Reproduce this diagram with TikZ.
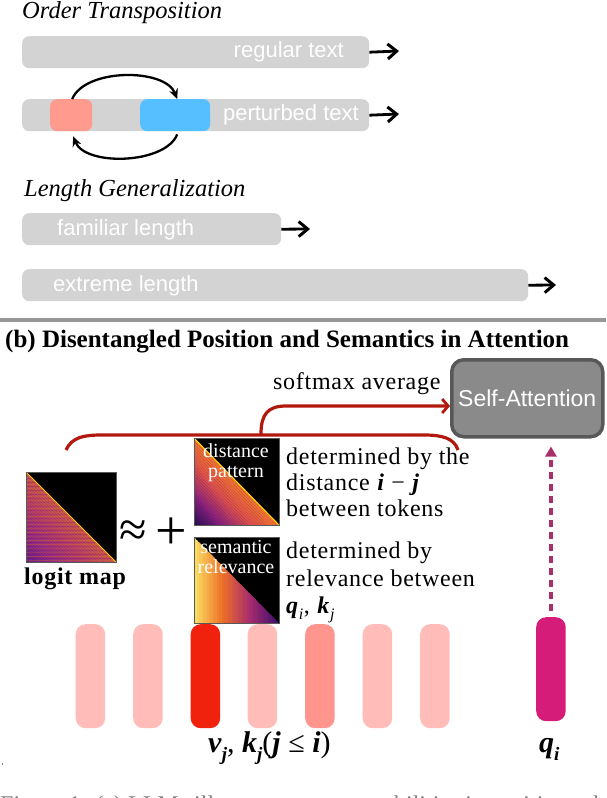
\documentclass[tikz,border=0pt]{standalone}
\usepackage{fontspec}
\setmainfont{Liberation Serif}
\setsansfont{Liberation Sans}
\usetikzlibrary{arrows.meta}
\definecolor{bargray}{RGB}{211,211,211}
\definecolor{pinkbox}{RGB}{255,154,143}
\definecolor{bluebox}{RGB}{85,191,255}
\definecolor{darkred}{RGB}{178,24,14}
\definecolor{sagray}{RGB}{138,138,138}
\definecolor{saborder}{RGB}{88,88,88}
\definecolor{dashmag}{RGB}{168,48,106}
\definecolor{toklight}{RGB}{255,188,184}
\definecolor{tokred}{RGB}{240,34,14}
\definecolor{tokmid}{RGB}{255,149,141}
\definecolor{qmag}{RGB}{212,28,120}
\definecolor{sepgray}{RGB}{150,150,150}
\newcommand\bi[1]{\textbf{\textit{#1}}}
\newcommand\mysub[1]{\raisebox{-0.28em}{\fontsize{16pt}{16pt}\selectfont\textit{#1}}}
\newcommand\mybsub[1]{\raisebox{-0.28em}{\fontsize{19pt}{19pt}\selectfont\bi{#1}}}
\begin{document}
\begin{tikzpicture}[x=1pt,y=-1pt,
  declare function={pw(\f,\a,\b,\c,\d)=\a+(\b-\a)*min(3*\f,1)+(\c-\b)*max(min(3*\f-1,1),0)+(\d-\c)*max(3*\f-2,0);},
  bar/.style={fill=bargray,rounded corners=7pt,minimum height=32pt,inner sep=0pt,anchor=north west},
  bartext/.style={text=white,font=\sffamily\fontsize{22pt}{24pt}\selectfont,inner sep=0pt},
  blkarrow/.style={line width=2.8pt,-{Straight Barb[length=9pt,width=15pt,line width=3pt]}},
  swaparrow/.style={line width=2.3pt,-{Stealth[length=10pt,width=9pt]}},
  heading/.style={font=\itshape\fontsize{24.5pt}{26pt}\selectfont,inner sep=0pt,anchor=base west},
  body/.style={font=\fontsize{24pt}{26pt}\selectfont\addfontfeature{LetterSpace=3},inner sep=0pt,anchor=base west},
  imglabel/.style={text=white,font=\fontsize{20pt}{20pt}\selectfont,inner sep=0pt,anchor=base},
  redline/.style={draw=darkred,line width=3.2pt},
  token/.style={rounded corners=10pt,minimum width=29.5pt,minimum height=104pt,inner sep=0pt,anchor=north west},
  mathlbl/.style={font=\fontsize{30pt}{32pt}\selectfont,inner sep=0pt,anchor=base west}
]
\useasboundingbox (0,0) rectangle (606,798);
\clip (0,0) rectangle (606,798);

% ---------------- (a) Order Transposition
\node[heading] (ot) at (22,18) {Order Transposition};
\node[bar,minimum width=347pt] (bar1) at (22,36) {};
\node[bartext,anchor=east] (t1) at (344,52) {regular text};
\coordinate (a1) at (399,51);
\draw[blkarrow] (bar1.east) -- (a1);

\node[bar,minimum width=347pt] (bar2) at (22,99) {};
\node[fill=pinkbox,rounded corners=7pt,minimum width=42pt,minimum height=32pt,inner sep=0pt,anchor=north west] (pk) at (50,99) {};
\node[fill=bluebox,rounded corners=7pt,minimum width=70pt,minimum height=32pt,inner sep=0pt,anchor=north west] (bl) at (140,99) {};
\node[bartext,anchor=east] (t2) at (359,115) {perturbed text};
\coordinate (a2) at (399,114);
\draw[blkarrow] (bar2.east) -- (a2);
\draw[swaparrow] ([xshift=1pt]pk.north) .. controls +(13,-31) and +(-12,-31) .. ([xshift=2pt]bl.north);
\draw[swaparrow] ([xshift=2pt,yshift=-3pt]bl.south) .. controls +(-12,30) and +(12,30) .. ([xshift=2pt,yshift=-5pt]pk.south);

% ---------------- Length Generalization
\node[heading] (lg) at (24,196) {Length Generalization};
\node[bar,minimum width=259pt] (bar3) at (22,213) {};
\node[bartext,anchor=west] (t3) at (57,230) {familiar length};
\coordinate (a3) at (310,229);
\draw[blkarrow] (bar3.east) -- (a3);
\node[bar,minimum width=506pt] (bar4) at (22,269) {};
\node[bartext,anchor=west] (t4) at (53,286) {extreme length};
\coordinate (a4) at (556,285);
\draw[blkarrow] (bar4.east) -- (a4);

% separator
\fill[sepgray] (0,318) rectangle (606,322);

% ---------------- (b)
\node[inner sep=0pt,anchor=base west,font=\bfseries\fontsize{25pt}{27pt}\selectfont] (title) at (5,347) {(b) Disentangled Position and Semantics in Attention};

\node[body] (sm) at (273,389) {softmax average};
\node[fill=sagray,draw=saborder,line width=3.5pt,rounded corners=12pt,minimum width=151pt,minimum height=77pt,inner sep=0pt,anchor=north west,text=white,font=\sffamily\fontsize{23pt}{25pt}\selectfont] (sa) at (450,358) {Self-Attention};

% bracket and softmax arrow
\coordinate (bkl) at (66,450);
\coordinate (bkr) at (458,450);
\draw[redline] (bkl) .. controls (72,437) and (84,435) .. (102,435) -- (424,435) .. controls (442,435) and (454,438) .. (bkr);
\coordinate (r0) at (261,434);
\coordinate (r2) at (286,406);
\draw[redline,-{Straight Barb[length=6pt,width=14pt,line width=2.8pt]}] (r0) .. controls (261,414) and (268,406) .. (r2) -- (r2 -| sa.west);

% ---------------- heat maps
% logit map
\begin{scope}
\fill[black] (26,472) rectangle (116,562);
\foreach \k in {0,...,29}{
  \pgfmathsetmacro\fa{\k/30}\pgfmathsetmacro\fb{(\k+1)/30}\pgfmathsetmacro\fm{(\k+0.5)/30}
  \pgfmathtruncatemacro\R{pw(\fm,205,185,155,105)}
  \pgfmathtruncatemacro\G{pw(\fm,90,64,48,30)}
  \pgfmathtruncatemacro\B{pw(\fm,80,108,132,140)}
  \definecolor{tmpc}{RGB}{\R,\G,\B}
  \fill[tmpc] (26,{472+90*\fa}) -- ({116-90*\fa},562) -- ({116-90*\fb},562) -- (26,{472+90*\fb}) -- cycle;
}
\clip (26,472) -- (26,562) -- (116,562) -- cycle;
\pgfmathsetseed{7}
\foreach \j in {0,...,44}{
  \pgfmathsetmacro\op{0.08+0.22*rnd}
  \pgfmathsetmacro\yy{472+2*\j}
  \ifodd\j
    \fill[violet,opacity=\op] (26,\yy) rectangle (116,\yy+1.2);
  \else
    \fill[orange,opacity=\op] (26,\yy) rectangle (116,\yy+1.2);
  \fi
}
\end{scope}
\draw[yellow!60!orange,line width=0.8pt] (26,472) -- (116,562);
\draw[gray!70!black,line width=0.4pt] (26,472) rectangle (116,562);
\node[inner sep=0pt,anchor=base west,font=\bfseries\fontsize{24pt}{26pt}\selectfont\addfontfeature{LetterSpace=3}] (lm) at (24,584) {logit map};

\node[inner sep=0pt,font=\fontsize{50pt}{50pt}\selectfont] (approx) at (133,534) {≈};
\node[inner sep=0pt,font=\fontsize{56pt}{56pt}\selectfont] (plus) at (171.5,534) {+};

% distance pattern
\begin{scope}
\fill[black] (194,438) rectangle (279,525);
\foreach \k in {0,...,29}{
  \pgfmathsetmacro\fa{\k/30}\pgfmathsetmacro\fb{(\k+1)/30}\pgfmathsetmacro\fm{(\k+0.5)/30}
  \pgfmathtruncatemacro\R{pw(\fm,242,222,140,35)}
  \pgfmathtruncatemacro\G{pw(\fm,118,80,34,12)}
  \pgfmathtruncatemacro\B{pw(\fm,48,78,128,82)}
  \definecolor{tmpc}{RGB}{\R,\G,\B}
  \fill[tmpc] (194,{438+87*\fa}) -- ({279-85*\fa},525) -- ({279-85*\fb},525) -- (194,{438+87*\fb}) -- cycle;
}
\end{scope}
\draw[yellow!80!orange,line width=1pt] (194,438) -- (279,525);
\draw[gray!70!black,line width=0.4pt] (194,438) rectangle (279,525);
\node[imglabel] (dp1) at (236,457) {distance};
\node[imglabel] (dp2) at (236,477) {pattern};

% semantic relevance
\begin{scope}
\fill[black] (194,537) rectangle (279,623);
\clip (194,537) -- (194,623) -- (279,623) -- cycle;
\foreach \k in {0,...,33}{
  \pgfmathsetmacro\fm{(\k+0.5)/34}
  \pgfmathtruncatemacro\R{pw(\fm,250,238,165,55)}
  \pgfmathtruncatemacro\G{pw(\fm,225,112,42,14)}
  \pgfmathtruncatemacro\B{pw(\fm,100,40,112,108)}
  \definecolor{tmpc}{RGB}{\R,\G,\B}
  \fill[tmpc] ({194+2.5*\k},537) rectangle ({194+2.5*\k+2.6},623);
}
\end{scope}
\draw[gray!70!black,line width=0.4pt] (194,537) rectangle (279,623);
\node[imglabel] (sr1) at (236,553) {semantic};
\node[imglabel] (sr2) at (236,573) {relevance};

% descriptions
\node[body] (d1) at (286,464) {determined by the};
\node[body] (d2) at (286,490) {distance \bi{i} − \bi{j}};
\node[body] (d3) at (286,516) {between tokens};
\node[body] (e1) at (286,558) {determined by};
\node[body] (e2) at (286,586) {relevance between};
\node[body] (e3) at (286,613) {\bi{q}\mysub{i}, \bi{k}\mysub{j}};

% ---------------- tokens
\node[token,fill=toklight] (k1) at (75.5,624) {};
\node[token,fill=toklight] (k2) at (133,624) {};
\node[token,fill=tokred]   (k3) at (190.5,624) {};
\node[token,fill=toklight] (k4) at (247.5,624) {};
\node[token,fill=tokmid]   (k5) at (305,624) {};
\node[token,fill=toklight] (k6) at (362.5,624) {};
\node[token,fill=toklight] (k7) at (420,624) {};
\node[token,fill=qmag]     (q)  at (536,617) {};
\draw[dashmag,line width=3.2pt,dash pattern=on 7pt off 5pt,-{Triangle[length=10pt,width=11pt]},shorten >=8pt,shorten <=6pt] (q.north) -- (q.north |- sa.south);

\node[mathlbl] (vk) at (208,752) {\bi{v}\mybsub{j}, \bi{k}\mybsub{j}(\bi{j} ≤ \bi{i})};
\node[mathlbl] (ql) at (539,752) {\bi{q}\mybsub{i}};

% stray dot and cut caption
\fill[black] (2.5,764) circle (0.7pt);
\node[inner sep=0pt,anchor=base west,font=\fontsize{24pt}{26pt}\selectfont,text=gray] (cap) at (0,812) {Figure 1: (a) LLMs illustrate strong capabilities in position robustness};
\end{tikzpicture}
\end{document}
